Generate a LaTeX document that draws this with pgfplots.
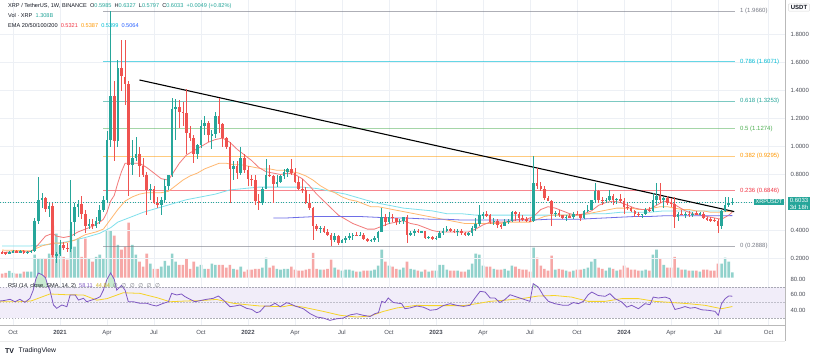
\documentclass[border=0pt]{standalone}
\usepackage{pgfplots}
\pgfplotsset{compat=1.18}
\usepackage{pgfplotstable}
\usepackage{fontspec}
\setmainfont{Liberation Sans}
\newfontfamily\djv{DejaVu Sans}
\definecolor{cgreen}{HTML}{26A69A}
\definecolor{cred}{HTML}{EF5350}
\definecolor{txt}{HTML}{131722}
\definecolor{labc}{HTML}{4A4D57}
\definecolor{gridc}{HTML}{EDF0F5}
\definecolor{ema20}{HTML}{F27A7A}
\definecolor{ema50}{HTML}{FFB870}
\definecolor{ema100}{HTML}{7FE0EC}
\definecolor{ema200}{HTML}{6E6EE6}
\definecolor{v20}{HTML}{F23645}
\definecolor{v50}{HTML}{FF9800}
\definecolor{v100}{HTML}{00BCD4}
\definecolor{v200}{HTML}{2962FF}
\definecolor{fgrey}{HTML}{787B86}
\definecolor{fcyan}{HTML}{00BCD4}
\definecolor{fteal}{HTML}{26A69A}
\definecolor{fgreen}{HTML}{4CAF50}
\definecolor{forange}{HTML}{FF9800}
\definecolor{fred}{HTML}{F23645}
\definecolor{rsic}{HTML}{7E57C2}
\definecolor{smac}{HTML}{F5D328}
\definecolor{lav}{HTML}{F1EDF9}
\definecolor{obg}{HTML}{C8EAD0}
\newcommand\fs{\fontsize{6}{7}\selectfont}
\newcommand\fl{\fontsize{5.6}{6.6}\selectfont}
\pgfplotsset{candle/.style={draw=none, mark=none, mark size=0pt, mark options={draw=none,fill=none},
  error bars/y dir=both, error bars/y explicit, error bars/error mark=none}}

\pgfplotstableread{
w o h l c v
-3 0.243 0.255 0.236 0.242 1.0
-2 0.242 0.246 0.225 0.240 1.2
-1 0.240 0.256 0.236 0.245 1.7
0 0.245 0.258 0.240 0.254 1.2
1 0.254 0.258 0.241 0.244 1.0
2 0.244 0.259 0.241 0.254 1.0
3 0.254 0.260 0.232 0.240 1.5
4 0.240 0.257 0.232 0.250 1.5
5 0.250 0.262 0.240 0.256 1.5
6 0.256 0.490 0.250 0.470 5.8
7 0.470 0.780 0.450 0.620 4.8
8 0.620 0.665 0.560 0.630 4.8
9 0.630 0.640 0.530 0.555 4.8
10 0.555 0.605 0.500 0.575 6.0
11 0.575 0.600 0.210 0.225 13.0
12 0.225 0.250 0.170 0.230 11.0
13 0.230 0.330 0.215 0.300 8.0
14 0.300 0.320 0.260 0.275 5.2
15 0.275 0.310 0.250 0.270 4.5
16 0.270 0.760 0.250 0.460 12.0
17 0.460 0.600 0.360 0.570 7.8
18 0.570 0.620 0.500 0.590 9.8
19 0.590 0.650 0.480 0.520 5.2
20 0.520 0.550 0.380 0.430 9.8
21 0.430 0.480 0.410 0.450 4.8
22 0.450 0.480 0.410 0.430 4.0
23 0.430 0.500 0.420 0.470 5.2
24 0.470 0.580 0.450 0.550 5.8
25 0.550 0.650 0.530 0.620 4.8
26 0.620 1.110 0.600 1.050 11.9
27 1.050 1.966 1.000 1.360 11.8
28 1.360 1.470 0.900 1.040 10.5
29 1.040 1.620 1.000 1.560 8.2
30 1.560 1.760 1.400 1.500 7.0
31 1.500 1.760 1.300 1.450 7.8
32 1.450 1.470 0.650 0.870 13.8
33 0.870 1.050 0.800 0.920 8.2
34 0.920 1.070 0.900 0.950 5.8
35 0.950 1.000 0.780 0.860 4.0
36 0.860 0.920 0.780 0.800 2.8
37 0.800 0.820 0.510 0.690 6.0
38 0.690 0.730 0.620 0.700 3.5
39 0.700 0.720 0.590 0.600 2.2
40 0.600 0.640 0.560 0.580 2.2
41 0.580 0.640 0.510 0.620 2.8
42 0.620 0.770 0.600 0.720 4.2
43 0.720 0.800 0.690 0.800 3.0
44 0.800 1.350 0.780 1.270 6.0
45 1.270 1.340 1.050 1.280 4.0
46 1.280 1.330 1.130 1.250 3.2
47 1.250 1.320 1.150 1.240 3.2
48 1.240 1.410 0.950 1.100 4.8
49 1.100 1.150 1.040 1.060 2.2
50 1.060 1.080 0.880 0.950 4.0
51 0.950 1.020 0.910 1.010 2.8
52 1.010 1.190 0.990 1.150 3.2
53 1.150 1.220 1.080 1.170 2.2
54 1.170 1.180 1.030 1.080 2.2
55 1.080 1.120 0.980 1.090 3.5
56 1.090 1.250 1.060 1.220 3.2
57 1.220 1.350 1.100 1.160 3.2
58 1.160 1.170 1.000 1.060 3.2
59 1.060 1.070 0.980 1.000 2.5
60 1.000 1.030 0.600 0.840 3.2
61 0.840 0.900 0.760 0.860 2.2
62 0.860 0.900 0.770 0.810 2.0
63 0.810 1.000 0.800 0.920 2.8
64 0.920 0.950 0.810 0.830 1.5
65 0.830 0.860 0.720 0.770 2.0
66 0.770 0.800 0.720 0.760 2.0
67 0.760 0.800 0.580 0.610 2.2
68 0.610 0.660 0.550 0.600 2.2
69 0.600 0.710 0.580 0.700 2.5
70 0.700 0.910 0.700 0.800 5.0
71 0.800 0.870 0.780 0.790 2.5
72 0.790 0.800 0.600 0.730 3.0
73 0.730 0.800 0.710 0.750 2.2
74 0.750 0.800 0.740 0.790 2.0
75 0.790 0.840 0.770 0.820 2.2
76 0.820 0.850 0.780 0.840 2.2
77 0.840 0.910 0.800 0.810 2.8
78 0.810 0.850 0.740 0.750 2.0
79 0.750 0.780 0.690 0.700 1.8
80 0.700 0.770 0.670 0.690 1.8
81 0.690 0.710 0.590 0.600 2.0
82 0.600 0.660 0.550 0.560 2.2
83 0.560 0.570 0.330 0.430 6.2
84 0.430 0.450 0.400 0.410 2.2
85 0.410 0.430 0.380 0.420 2.0
86 0.420 0.430 0.380 0.390 2.0
87 0.390 0.410 0.360 0.370 2.2
88 0.370 0.380 0.290 0.330 4.5
89 0.330 0.380 0.320 0.360 2.5
90 0.360 0.370 0.300 0.310 2.0
91 0.310 0.340 0.310 0.330 1.8
92 0.330 0.360 0.310 0.350 2.0
93 0.350 0.380 0.330 0.360 2.0
94 0.360 0.380 0.330 0.370 1.8
95 0.370 0.390 0.360 0.365 1.5
96 0.365 0.390 0.360 0.370 1.5
97 0.370 0.380 0.330 0.340 1.8
98 0.340 0.350 0.320 0.330 1.8
99 0.330 0.340 0.320 0.332 1.8
100 0.332 0.360 0.320 0.350 2.0
101 0.350 0.400 0.320 0.390 3.0
102 0.390 0.560 0.390 0.500 7.0
103 0.500 0.520 0.430 0.460 4.0
104 0.460 0.530 0.450 0.500 3.0
105 0.500 0.520 0.460 0.490 2.8
106 0.490 0.490 0.440 0.460 2.2
107 0.460 0.480 0.450 0.470 2.0
108 0.470 0.500 0.450 0.500 2.5
109 0.500 0.510 0.310 0.370 4.0
110 0.370 0.400 0.360 0.380 2.2
111 0.380 0.410 0.360 0.400 2.0
112 0.400 0.410 0.380 0.390 1.8
113 0.390 0.400 0.380 0.395 1.5
114 0.395 0.400 0.340 0.350 2.0
115 0.350 0.360 0.340 0.352 1.5
116 0.352 0.360 0.330 0.340 1.8
117 0.340 0.360 0.330 0.350 1.8
118 0.350 0.400 0.350 0.380 3.2
119 0.380 0.420 0.370 0.400 3.2
120 0.400 0.430 0.390 0.410 2.0
121 0.410 0.420 0.390 0.400 1.8
122 0.400 0.410 0.380 0.390 1.8
123 0.390 0.410 0.360 0.400 1.8
124 0.400 0.410 0.370 0.380 1.5
125 0.380 0.390 0.360 0.370 1.5
126 0.370 0.390 0.360 0.380 2.0
127 0.380 0.430 0.360 0.420 3.5
128 0.420 0.490 0.400 0.450 6.0
129 0.450 0.580 0.430 0.510 5.8
130 0.510 0.530 0.480 0.515 3.0
131 0.515 0.540 0.500 0.510 2.8
132 0.510 0.520 0.450 0.460 2.8
133 0.460 0.490 0.440 0.470 2.2
134 0.470 0.480 0.420 0.440 2.0
135 0.440 0.450 0.410 0.430 2.0
136 0.430 0.480 0.430 0.460 2.2
137 0.460 0.480 0.450 0.470 1.8
138 0.470 0.540 0.460 0.530 3.0
139 0.530 0.540 0.470 0.520 2.8
140 0.520 0.530 0.460 0.490 2.2
141 0.490 0.510 0.470 0.480 2.0
142 0.480 0.500 0.460 0.470 2.0
143 0.470 0.490 0.460 0.465 1.5
144 0.465 0.930 0.460 0.740 7.5
145 0.740 0.850 0.700 0.720 5.0
146 0.720 0.750 0.680 0.700 3.0
147 0.700 0.720 0.620 0.630 2.2
148 0.630 0.650 0.610 0.610 1.8
149 0.610 0.620 0.430 0.520 5.5
150 0.520 0.540 0.500 0.525 2.0
151 0.525 0.550 0.500 0.510 2.2
152 0.510 0.510 0.480 0.490 2.0
153 0.490 0.510 0.470 0.500 1.8
154 0.500 0.520 0.490 0.495 1.5
155 0.495 0.530 0.480 0.520 1.8
156 0.520 0.540 0.510 0.515 2.0
157 0.515 0.520 0.470 0.490 2.0
158 0.490 0.550 0.480 0.540 2.2
159 0.540 0.580 0.530 0.550 2.5
160 0.550 0.620 0.550 0.620 4.0
161 0.620 0.740 0.600 0.680 4.8
162 0.680 0.690 0.600 0.620 2.5
163 0.620 0.640 0.580 0.615 2.2
164 0.615 0.630 0.600 0.620 1.8
165 0.620 0.690 0.610 0.650 2.5
166 0.650 0.660 0.580 0.620 2.2
167 0.620 0.630 0.590 0.625 1.8
168 0.625 0.660 0.600 0.610 2.0
169 0.610 0.630 0.520 0.570 3.0
170 0.570 0.600 0.550 0.560 2.5
171 0.560 0.570 0.530 0.540 2.0
172 0.540 0.550 0.500 0.520 2.0
173 0.520 0.530 0.500 0.510 1.8
174 0.510 0.520 0.490 0.520 1.8
175 0.520 0.560 0.510 0.550 2.0
176 0.550 0.570 0.530 0.540 1.8
177 0.540 0.670 0.530 0.620 5.8
178 0.620 0.740 0.580 0.650 7.0
179 0.650 0.740 0.600 0.620 4.8
180 0.620 0.640 0.560 0.630 3.2
181 0.630 0.650 0.580 0.600 2.5
182 0.600 0.630 0.570 0.590 2.5
183 0.590 0.640 0.420 0.500 5.2
184 0.500 0.530 0.470 0.520 2.5
185 0.520 0.550 0.510 0.515 2.0
186 0.515 0.530 0.490 0.520 2.0
187 0.520 0.540 0.500 0.510 1.8
188 0.510 0.530 0.500 0.520 1.8
189 0.520 0.540 0.510 0.518 1.8
190 0.518 0.530 0.510 0.520 1.5
191 0.520 0.530 0.480 0.490 2.0
192 0.490 0.500 0.470 0.480 2.0
193 0.480 0.500 0.460 0.475 1.8
194 0.475 0.490 0.460 0.470 1.8
195 0.470 0.480 0.380 0.430 3.5
196 0.430 0.550 0.410 0.540 3.5
197 0.540 0.640 0.530 0.580 5.0
198 0.580 0.640 0.570 0.5985 4.0
199 0.5985 0.6327 0.5797 0.6033 1.308
}\candles

\pgfplotstableread{
w r
-3.6 52
-2.7 52.4
-0.8 54.1
0.55 51
1.9 54.1
3.3 50.2
4.7 55.4
5.6 66
6.3 80
7 88
8 86
9 82
9.6 72
10.2 66
11.2 46.8
12.1 42.5
13.5 46.8
14.9 44.6
15.8 59.7
17.2 59.7
18.1 53.2
19.5 55.4
20.4 51
21.8 53.2
23.2 55.4
24.1 57.5
25 66
26 80
27 88
28 80
28.7 66
30 72
31 66
31.9 51
33.3 51
35.1 49
37 49
38.4 46.8
39.7 45.5
41.6 49
43 51
43.9 61.8
45.3 59.7
46.6 61
47.6 57.5
49 54.1
50.3 51
51.7 52.4
53.5 54.1
55.4 55.4
56.8 58.4
58.2 53.2
60 44.6
61.4 45.5
62.8 46.8
64.6 42.5
66 41.2
67.4 36.9
68.3 38.2
69.7 45.5
71.1 45.5
72.5 49
73.9 44.6
75.7 49.8
76.6 48.5
78 45.5
80.3 42
82.2 35.6
84 31.3
85.8 30
87.7 27
89.5 29
91.4 30
93.2 34
95.1 35.6
96.9 33.5
98.8 32
100.1 35.6
101.1 37
102 51.5
102.9 49.8
103.8 55.8
105.2 50
107.5 48.5
108.4 42
109.8 43
111.7 45.5
113.5 44
115.4 40
117.2 41
119 46
120.9 48.5
122.7 46.4
124.6 45
126.4 46.4
127.8 55.8
129.2 64.4
130.6 63.5
132 55.8
133.3 55.8
134.7 50
136.1 54
137.5 60
138.9 57.8
140.7 55
143 51.5
143.9 74.3
145.3 70
146.7 59
148.1 51.5
149.9 48.5
152.2 46.4
153.6 46.4
155 50
156.4 48.5
157.8 51.5
159.1 60
160.1 63.5
161.9 59
163.8 58
165.1 61.4
166.5 55
168.4 50.6
169.8 44
171.1 46.4
173 42
174.8 48.5
176.2 47.2
177.1 57
178.5 55.8
180.4 57
181.7 55
183.1 41
184.5 42.7
185.9 44.8
187.3 42.7
188.7 43.6
190.5 40.6
192.3 40
194.2 38.6
195.1 33.5
196 48.5
197 55
198 58.5
199 58.11
}\rsidata

\pgfplotstableread{
w s
-3.6 51
1.9 51
5 52
10.2 61
15 60
19.5 59.7
23.2 53
26 55
30.5 62.6
35.1 61.8
40 56
43.4 51
48 52
51.7 52.4
56.3 54
60.9 49
65 47
68.3 45.5
74.8 44.6
76.6 46.4
80.3 44
85.8 38.6
90.5 33.5
95.1 31.3
98.8 32.6
102.5 38.6
106.2 43
111.7 46.4
115 46
120 46
124.6 46
128.3 48.5
132 51.5
136.1 53
140.7 55
145.3 58.4
149.9 59
154.5 57
159.1 51.5
163.8 51.5
168.4 55
173 55
177.6 51.5
182.2 50
186.8 48.5
191.4 46.4
196 42
199 44.84
}\smadata

\begin{document}
\begin{tikzpicture}[x=1pt,y=1pt]
\useasboundingbox (0,0) rectangle (822,-362);
\fill[white] (0,0) rectangle (822,-362);

% ---------- volume (behind price) ----------
\begin{axis}[at={(0pt,-277.7pt)}, anchor=south west, width=785pt, height=80pt, scale only axis,
  xmin=-3.596, xmax=213.55, ymin=0, ymax=20, hide axis]
\addplot[ybar, bar width=2.6pt, bar shift=0pt, fill=cgreen, fill opacity=0.5, draw=none,
  restrict expr to domain={\thisrow{c}-\thisrow{o}}{0:10}] table[x=w,y=v]{\candles};
\addplot[ybar, bar width=2.6pt, bar shift=0pt, fill=cred, fill opacity=0.5, draw=none,
  restrict expr to domain={\thisrow{c}-\thisrow{o}}{-10:-0.00001}] table[x=w,y=v]{\candles};
\end{axis}

% ---------- price pane ----------
\begin{axis}[at={(0pt,0pt)}, anchor=north west, width=785pt, height=278pt, scale only axis,
  xmin=-3.596, xmax=213.55, ymin=0.0607, ymax=2.0464,
  axis line style={draw=none}, major tick length=0pt,
  xtick={0,13,26,39,52,65,78,91,104,117,130,143,156,169,182,195,209}, xticklabels={},
  ytick={0.2,0.4,0.6,0.8,1.0,1.2,1.4,1.6,1.8},
  yticklabels={0.2000,0.4000,{},0.8000,1.0000,1.2000,1.4000,1.6000,1.8000},
  yticklabel pos=right, yticklabel style={font=\fs, text=labc, xshift=2pt},
  xmajorgrids, ymajorgrids, grid style={draw=gridc, line width=0.6pt}]
% fib levels
\addplot[fgrey, opacity=0.6, line width=0.8pt] coordinates {(24.9,1.966) (199.7,1.966)};
\addplot[fcyan, opacity=0.6, line width=0.8pt] coordinates {(24.9,1.6071) (199.7,1.6071)};
\addplot[fteal, opacity=0.6, line width=0.8pt] coordinates {(24.9,1.3253) (199.7,1.3253)};
\addplot[fgreen, opacity=0.5, line width=0.8pt] coordinates {(24.9,1.1274) (199.7,1.1274)};
\addplot[forange, opacity=0.5, line width=0.8pt] coordinates {(24.9,0.9295) (199.7,0.9295)};
\addplot[fred, opacity=0.6, line width=0.8pt] coordinates {(24.9,0.6846) (199.7,0.6846)};
\addplot[fgrey, opacity=0.6, line width=0.8pt] coordinates {(24.9,0.2888) (199.7,0.2888)};
\node[anchor=west, font=\fs, text=fgrey, inner sep=0pt] at (axis cs:201.1,1.966) {1 (1.9660)};
\node[anchor=west, font=\fs, text=fcyan, inner sep=0pt] at (axis cs:201.1,1.6071) {0.786 (1.6071)};
\node[anchor=west, font=\fs, text=fteal, inner sep=0pt] at (axis cs:201.1,1.3253) {0.618 (1.3253)};
\node[anchor=west, font=\fs, text=fgreen, inner sep=0pt] at (axis cs:201.1,1.1274) {0.5 (1.1274)};
\node[anchor=west, font=\fs, text=forange, inner sep=0pt] at (axis cs:201.1,0.9295) {0.382 (0.9295)};
\node[anchor=west, font=\fs, text=fred, inner sep=0pt] at (axis cs:201.1,0.6846) {0.236 (0.6846)};
\node[anchor=west, font=\fs, text=fgrey, inner sep=0pt] at (axis cs:201.1,0.2888) {0 (0.2888)};
% current price line
\addplot[cgreen, dotted, line width=0.6pt] coordinates {(-3.6,0.6033) (213.6,0.6033)};
% EMAs
\addplot[ema100, line width=0.8pt] coordinates {(-3,0.29)(5,0.29)(10,0.30)(15,0.32)(20,0.35)(24,0.38)(27,0.42)(29,0.46)(31,0.48)(33,0.50)(36,0.53)(40,0.56)(44,0.59)(48,0.62)(52,0.64)(56,0.66)(60,0.69)(64,0.70)(68,0.71)(72,0.71)(76,0.71)(80,0.71)(84,0.70)(88,0.68)(92,0.66)(96,0.63)(100,0.60)(104,0.58)(108,0.56)(112,0.55)(116,0.54)(120,0.52)(124,0.52)(128,0.51)(132,0.51)(136,0.51)(140,0.51)(144,0.51)(148,0.51)(152,0.51)(156,0.51)(160,0.52)(164,0.52)(168,0.53)(172,0.53)(176,0.53)(180,0.54)(184,0.54)(188,0.54)(192,0.54)(196,0.54)(199,0.5399)};
\addplot[ema50, line width=0.8pt] coordinates {(-3,0.26)(0,0.258)(5,0.255)(8,0.29)(11,0.31)(14,0.31)(17,0.33)(20,0.37)(23,0.39)(25,0.41)(27,0.48)(29,0.55)(31,0.61)(33,0.64)(35,0.66)(37,0.67)(39,0.67)(41,0.67)(43,0.68)(45,0.72)(47,0.76)(49,0.79)(51,0.81)(53,0.84)(55,0.86)(57,0.88)(59,0.88)(61,0.87)(63,0.87)(65,0.86)(67,0.85)(69,0.84)(71,0.84)(73,0.83)(75,0.83)(77,0.82)(79,0.81)(81,0.79)(83,0.76)(85,0.72)(87,0.69)(89,0.67)(91,0.64)(93,0.62)(95,0.61)(97,0.59)(99,0.57)(101,0.57)(103,0.56)(105,0.55)(107,0.54)(109,0.53)(111,0.52)(113,0.51)(115,0.50)(117,0.49)(119,0.48)(121,0.47)(123,0.46)(125,0.45)(127,0.45)(129,0.45)(131,0.45)(133,0.45)(135,0.45)(137,0.46)(139,0.46)(141,0.46)(143,0.46)(145,0.48)(147,0.50)(149,0.51)(151,0.51)(153,0.51)(155,0.51)(157,0.51)(159,0.52)(161,0.53)(163,0.54)(165,0.55)(167,0.56)(169,0.56)(171,0.56)(173,0.55)(175,0.55)(177,0.56)(179,0.57)(181,0.57)(183,0.56)(185,0.55)(187,0.55)(189,0.54)(191,0.54)(193,0.53)(195,0.53)(197,0.535)(199,0.5387)};
\addplot[ema20, line width=0.8pt] coordinates {(-3,0.245)(0,0.246)(3,0.248)(5,0.25)(6,0.27)(7,0.30)(9,0.36)(11,0.38)(12,0.36)(14,0.35)(16,0.36)(18,0.39)(20,0.41)(22,0.43)(24,0.46)(25,0.48)(26,0.53)(27,0.61)(28,0.65)(29,0.74)(30,0.82)(31,0.88)(32,0.88)(33,0.88)(35,0.88)(37,0.85)(39,0.81)(41,0.77)(43,0.76)(44,0.80)(46,0.88)(48,0.94)(50,0.97)(52,1.00)(54,1.03)(56,1.05)(58,1.06)(60,1.03)(62,0.98)(64,0.94)(66,0.90)(68,0.85)(70,0.82)(72,0.81)(74,0.80)(76,0.81)(78,0.80)(80,0.77)(82,0.72)(84,0.66)(86,0.61)(88,0.56)(90,0.51)(92,0.48)(94,0.45)(96,0.43)(98,0.41)(100,0.41)(102,0.43)(104,0.45)(106,0.46)(108,0.47)(110,0.45)(112,0.44)(114,0.42)(116,0.40)(118,0.39)(120,0.39)(122,0.39)(124,0.39)(126,0.39)(128,0.41)(130,0.44)(132,0.46)(134,0.46)(136,0.46)(138,0.47)(140,0.48)(142,0.48)(144,0.50)(146,0.55)(148,0.57)(150,0.56)(152,0.54)(154,0.52)(156,0.51)(158,0.52)(160,0.54)(162,0.58)(164,0.60)(166,0.61)(168,0.60)(170,0.58)(172,0.56)(174,0.55)(176,0.55)(178,0.58)(180,0.61)(182,0.60)(184,0.57)(186,0.54)(188,0.52)(190,0.51)(192,0.50)(194,0.49)(196,0.48)(198,0.51)(199,0.532)};
\addplot[ema200, line width=0.8pt] coordinates {(72,0.49)(76,0.49)(80,0.495)(84,0.50)(88,0.50)(92,0.50)(96,0.50)(100,0.495)(104,0.49)(108,0.49)(112,0.485)(116,0.48)(120,0.48)(124,0.475)(128,0.475)(132,0.475)(136,0.475)(140,0.475)(144,0.475)(148,0.48)(152,0.48)(156,0.48)(160,0.485)(164,0.49)(168,0.495)(172,0.50)(176,0.50)(180,0.505)(184,0.505)(188,0.505)(192,0.505)(196,0.505)(199,0.5064)};
% trendline
\addplot[black, line width=1.1pt] coordinates {(35,1.475) (199.5,0.535)};
% candles: wicks
\addplot[candle, error bars/error bar style={draw=cgreen, line width=0.7pt}, restrict expr to domain={\thisrow{c}-\thisrow{o}}{0:10}]
  table[x=w, y expr={(\thisrow{h}+\thisrow{l})/2}, y error expr={(\thisrow{h}-\thisrow{l})/2}]{\candles};
\addplot[candle, error bars/error bar style={draw=cred, line width=0.7pt}, restrict expr to domain={\thisrow{c}-\thisrow{o}}{-10:-0.00001}]
  table[x=w, y expr={(\thisrow{h}+\thisrow{l})/2}, y error expr={(\thisrow{h}-\thisrow{l})/2}]{\candles};
% candles: bodies
\addplot[candle, error bars/error bar style={draw=cgreen, line width=2.6pt}, restrict expr to domain={\thisrow{c}-\thisrow{o}}{0:10}]
  table[x=w, y expr={(\thisrow{o}+\thisrow{c})/2}, y error expr={max(abs(\thisrow{c}-\thisrow{o})/2,0.003)}]{\candles};
\addplot[candle, error bars/error bar style={draw=cred, line width=2.6pt}, restrict expr to domain={\thisrow{c}-\thisrow{o}}{-10:-0.00001}]
  table[x=w, y expr={(\thisrow{o}+\thisrow{c})/2}, y error expr={max(abs(\thisrow{c}-\thisrow{o})/2,0.003)}]{\candles};
\end{axis}

% ---------- RSI overbought fill ----------
\begin{axis}[at={(0pt,-287pt)}, anchor=south west, width=785pt, height=23.3pt, scale only axis,
  xmin=-3.596, xmax=213.55, ymin=70, ymax=100, hide axis]
\addplot[fill=obg, draw=none] table[x=w,y=r]{\rsidata} \closedcycle;
\end{axis}

% ---------- RSI pane ----------
\begin{axis}[at={(0pt,-278pt)}, anchor=north west, width=785pt, height=47pt, scale only axis,
  xmin=-3.596, xmax=213.55, ymin=21, ymax=81.6, clip=false,
  axis line style={draw=none}, major tick length=0pt,
  xtick={0,13,26,39,52,65,78,91,104,117,130,143,156,169,182,195,209},
  xticklabels={Oct,\textbf{2021},Apr,Jul,Oct,\textbf{2022},Apr,Jul,Oct,\textbf{2023},Apr,Jul,Oct,\textbf{2024},Apr,Jul,Oct},
  xticklabel style={font=\fs, text=labc, yshift=-1.5pt},
  ytick={40,60,80}, yticklabels={40.00,60.00,80.00},
  yticklabel pos=right, yticklabel style={font=\fs, text=labc, xshift=2pt},
  xmajorgrids, grid style={draw=gridc, line width=0.6pt}]
\addplot[draw=none, fill=lav] coordinates {(-3.596,30) (213.55,30) (213.55,70) (-3.596,70)} -- cycle;
\addplot[fgrey, opacity=0.6, line width=0.5pt, dash pattern=on 1.5pt off 1.5pt] coordinates {(-3.596,70) (213.55,70)};
\addplot[fgrey, opacity=0.4, line width=0.5pt, dash pattern=on 1.5pt off 1.5pt] coordinates {(-3.596,50) (213.55,50)};
\addplot[fgrey, opacity=0.6, line width=0.5pt, dash pattern=on 1.5pt off 1.5pt] coordinates {(-3.596,30) (213.55,30)};
\addplot[smac, line width=0.8pt] table[x=w,y=s]{\smadata};
\addplot[rsic, line width=0.8pt] table[x=w,y=r]{\rsidata};
\end{axis}

% ---------- frame lines ----------
\draw[gray!55, line width=0.7pt] (785,0) -- (785,-341);
\draw[gray!55, line width=0.7pt] (0,-325) -- (785,-325);
\draw[gray!15, line width=0.5pt] (0,-341) -- (785,-341);

% ---------- legend text ----------
\node[anchor=west, font=\fl, text=txt, inner sep=0pt] at (8,-6)
 {XRP / TetherUS, 1W, BINANCE\ \ O\textcolor{cgreen}{0.5985}\ \ H\textcolor{cgreen}{0.6327}\ \ L\textcolor{cgreen}{0.5797}\ \ C\textcolor{cgreen}{0.6033}\ \ \textcolor{cgreen}{+0.0049 (+0.82\%)}};
\node[anchor=west, font=\fl, text=txt, inner sep=0pt] at (8,-15.5)
 {Vol · XRP\ \ \textcolor{cgreen}{1.308B}};
\node[anchor=west, font=\fl, text=txt, inner sep=0pt] at (8,-25)
 {EMA 20/50/100/200\ \ \textcolor{v20}{0.5321}\ \ \textcolor{v50}{0.5387}\ \ \textcolor{v100}{0.5399}\ \ \textcolor{v200}{0.5064}};
\node[anchor=west, font=\fl, text=txt, inner sep=0pt] at (8,-286.5)
 {RSI (14, close, SMA, 14, 2)\ \ \textcolor{rsic}{58.11}\ \ \textcolor{smac!85!black}{44.84}\ \ {\djv\fontsize{5.6}{6.6}\selectfont\textcolor{fgrey}{∅\ \ ∅\ \ ∅\ \ ∅\ \ ∅\ \ ∅}}};

% ---------- right-side labels ----------
\node[draw=gray!30, rounded corners=1pt, font=\fs\bfseries, text=txt, inner xsep=2.5pt, inner ysep=1.5pt] at (799,-7.5) {USDT};
\node[fill=cgreen, text=white, font=\fl, inner xsep=1.5pt, inner ysep=1.2pt] at (769,-202) {XRPUSDT};
\node[fill=cgreen, text=white, font=\fs, align=center, inner xsep=2pt, inner ysep=1.2pt, anchor=north] at (799,-197) {0.6033\\[-0.5pt]3d 18h};

% ---------- TradingView logo ----------
\node[anchor=west, font=\fontsize{7}{8}\selectfont\bfseries, text=txt, inner sep=0pt] at (5,-351) {TV};
\node[anchor=west, font=\fontsize{6.8}{8}\selectfont, text=txt, inner sep=0pt] at (18.5,-351) {TradingView};
\end{tikzpicture}
\end{document}
